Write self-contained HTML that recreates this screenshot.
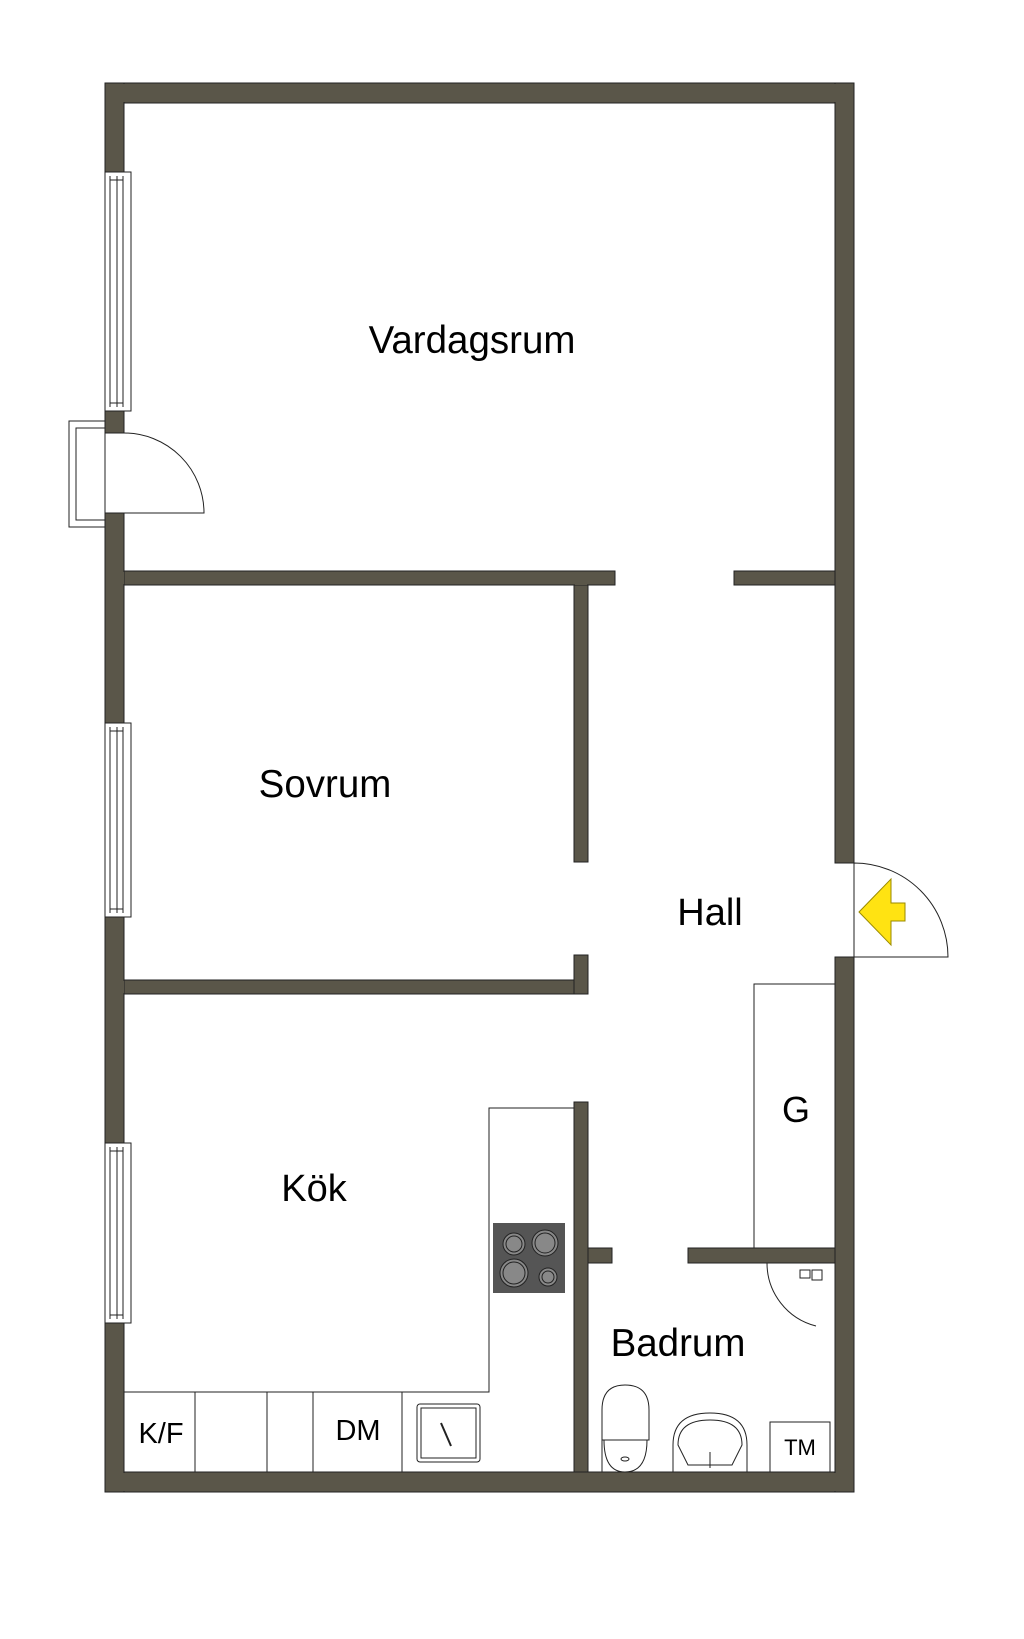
<!DOCTYPE html>
<html><head><meta charset="utf-8"><style>
html,body{margin:0;padding:0;background:#fff;}
svg{display:block;}
text{font-family:"Liberation Sans",sans-serif;fill:#000;}
</style></head><body>
<svg width="1024" height="1639" viewBox="0 0 1024 1639" xmlns="http://www.w3.org/2000/svg">
<rect width="1024" height="1639" fill="#fff"/>
<g fill="#5a5649" stroke="#222" stroke-width="1">
<rect x="105" y="83" width="749" height="20"/>
<rect x="105" y="1472" width="749" height="20"/>
<rect x="105" y="83" width="19" height="350"/>
<rect x="105" y="513" width="19" height="979"/>
<rect x="835" y="83" width="19" height="780"/>
<rect x="835" y="957" width="19" height="535"/>
<rect x="124" y="571" width="491" height="14"/>
<rect x="734" y="571" width="101" height="14"/>
<rect x="574" y="585" width="14" height="277"/>
<rect x="124" y="980" width="464" height="14"/>
<rect x="574" y="955" width="14" height="39"/>
<rect x="574" y="1102" width="14" height="370"/>
<rect x="588" y="1248" width="24" height="15"/>
<rect x="688" y="1248" width="147" height="15"/>
</g>
<g fill="#5a5649">
<rect x="106" y="84" width="17" height="18"/>
<rect x="836" y="84" width="17" height="18"/>
<rect x="106" y="1473" width="17" height="18"/>
<rect x="836" y="1473" width="17" height="18"/>
<rect x="575" y="572" width="12" height="13"/>
<rect x="575" y="981" width="12" height="12"/>
<rect x="575" y="1249" width="12" height="13"/>
<rect x="575" y="1473" width="12" height="18"/>
<rect x="836" y="1249" width="17" height="13"/>
<rect x="836" y="572" width="17" height="12"/>
<rect x="106" y="572" width="18" height="12"/>
<rect x="106" y="981" width="18" height="12"/>
</g>
<g fill="#5a5649"><rect x="106" y="84" width="747" height="18"/><rect x="106" y="1473" width="747" height="18"/></g>
<g fill="#fff" stroke="#222" stroke-width="1">
<rect x="105" y="172" width="26" height="239"/>
<rect x="105" y="723" width="26" height="194"/>
<rect x="105" y="1143" width="26" height="180"/>
</g>
<g stroke="#222" stroke-width="1" fill="none">
<path d="M110 176V407M117 176V407M123 176V407M110 180H123M110 403H123"/>
<path d="M110 727V913M117 727V913M123 727V913M110 731H123M110 909H123"/>
<path d="M110 1147V1319M117 1147V1319M123 1147V1319M110 1151H123M110 1315H123"/>
</g>
<g stroke="#222" stroke-width="1" fill="none">
<rect x="69" y="421" width="36" height="106" fill="#fff"/>
<path d="M105 428H76V520H105"/>
<path d="M105 513H204A80 80 0 0 0 124 433H105"/>
</g>
<g stroke="#222" stroke-width="1" fill="none">
<path d="M854 863V957H948A94 94 0 0 0 854 863"/>
</g>
<polygon points="859,912 891,879 891,903 905,903 905,921 891,921 891,945" fill="#ffe312" stroke="#9a8a00" stroke-width="1"/>
<path d="M835 984H754V1248" stroke="#222" fill="none"/>
<g stroke="#222" stroke-width="1" fill="none">
<path d="M574 1108H489V1392H124"/>
<path d="M124 1392H489M195 1392V1472M267 1392V1472M313 1392V1472M402 1392V1472"/>
<rect x="417" y="1404" width="63" height="58" rx="3"/>
<rect x="421" y="1408" width="55" height="50"/>
<path d="M441 1423L451 1446" stroke-width="2"/>
</g>
<rect x="493" y="1223" width="72" height="70" fill="#555"/>
<g stroke="#222" fill="#888">
<circle cx="514" cy="1244" r="11"/><circle cx="514" cy="1244" r="8"/>
<circle cx="545" cy="1243" r="13"/><circle cx="545" cy="1243" r="10"/>
<circle cx="514" cy="1273" r="14"/><circle cx="514" cy="1273" r="11"/>
<circle cx="548" cy="1277" r="9"/><circle cx="548" cy="1277" r="6"/>
</g>
<g stroke="#222" stroke-width="1" fill="none">
<path d="M767 1263A65 65 0 0 0 816 1326"/>
<path d="M800 1270h10v8h-10zM812 1270h10v10h-10z"/>
<path d="M602 1472V1410Q602 1385 625 1385Q649 1385 649 1410V1440H602" fill="#fff"/>
<path d="M604 1440Q604 1472 625 1472Q647 1472 647 1440"/>
<ellipse cx="625" cy="1459" rx="4" ry="2"/>
<path d="M673 1472V1445Q673 1413 710 1413Q747 1413 747 1445V1472"/>
<path d="M678 1445Q678 1420 710 1420Q742 1420 742 1445L732 1465H688Z"/>
<path d="M710 1452V1468"/>
<rect x="770" y="1422" width="60" height="50"/>
</g>
<text x="472" y="353" font-size="38.5" text-anchor="middle">Vardagsrum</text>
<text x="325" y="797" font-size="38.5" text-anchor="middle">Sovrum</text>
<text x="710" y="925" font-size="38" text-anchor="middle">Hall</text>
<text x="796" y="1122" font-size="36" text-anchor="middle">G</text>
<text x="314" y="1201" font-size="38" text-anchor="middle">Kök</text>
<text x="678" y="1356" font-size="38.5" text-anchor="middle">Badrum</text>
<text x="161" y="1443" font-size="29" text-anchor="middle">K/F</text>
<text x="358" y="1440" font-size="29" text-anchor="middle">DM</text>
<text x="800" y="1455" font-size="22" text-anchor="middle">TM</text>
</svg>
</body></html>
